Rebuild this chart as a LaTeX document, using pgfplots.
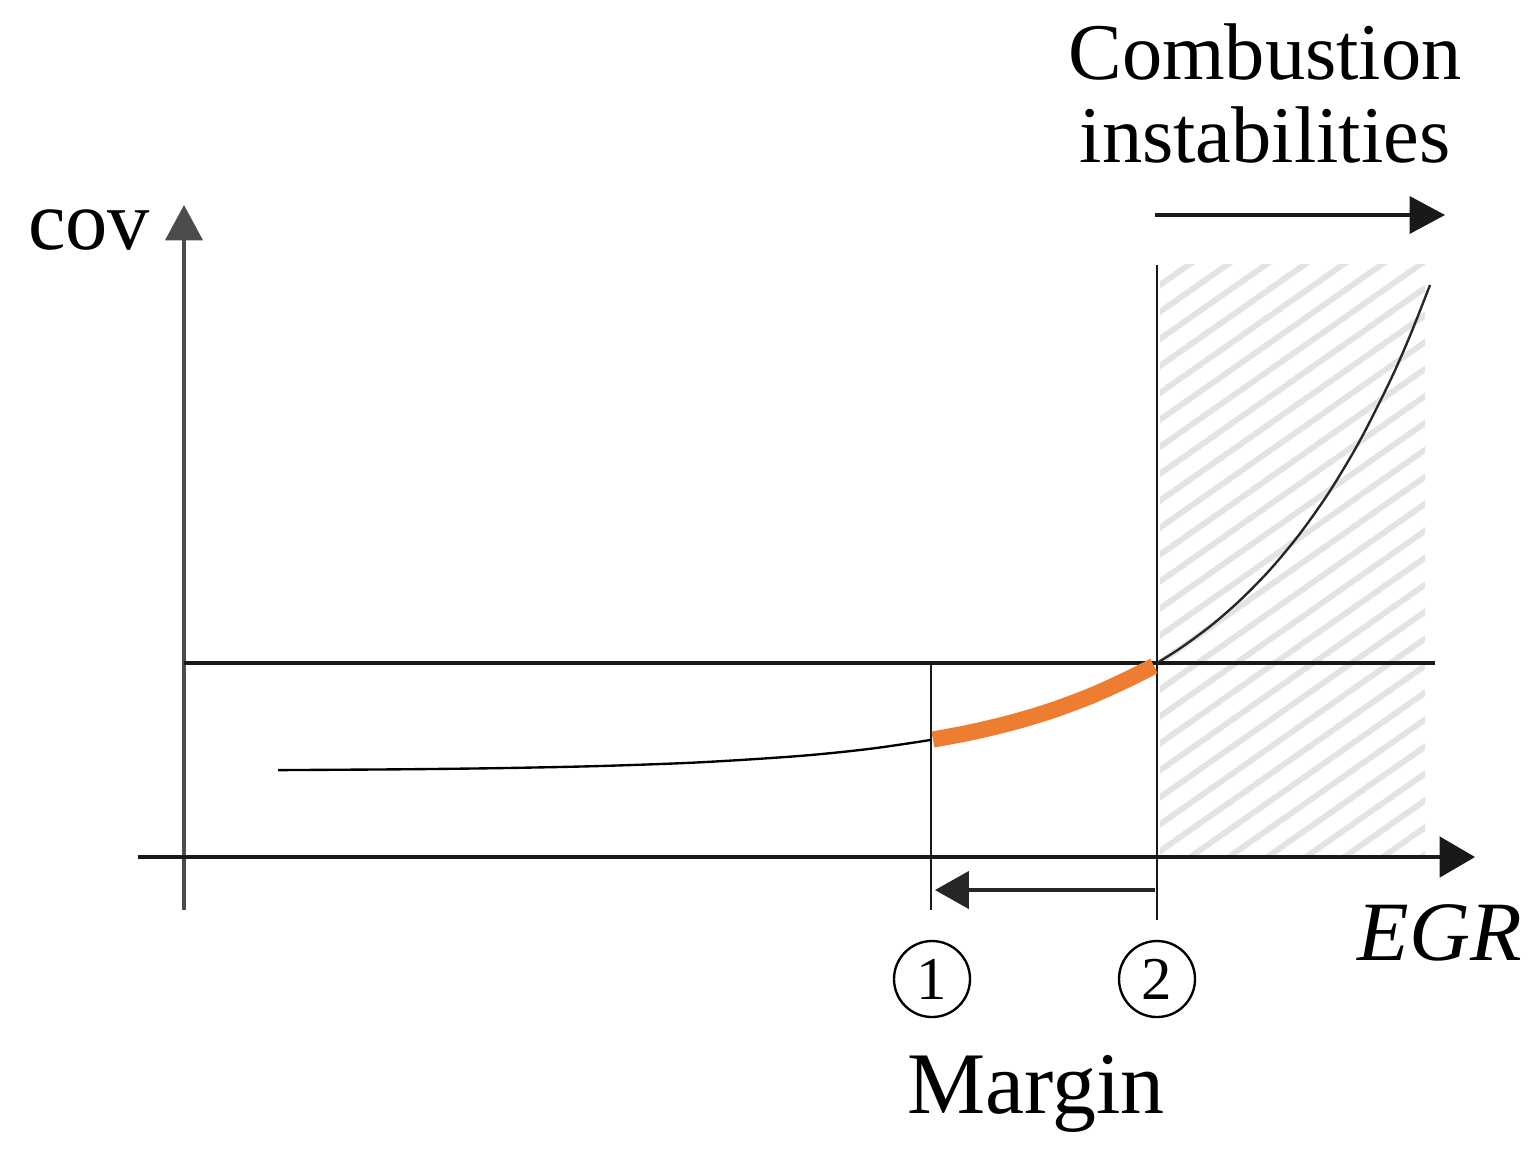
\documentclass[border=0pt]{standalone}
\usepackage{pgfplots}
\pgfplotsset{compat=1.18}
\usepackage{fontspec}
\setmainfont{Liberation Serif}
\usetikzlibrary{arrows.meta,patterns.meta}
\definecolor{orng}{HTML}{ED7D31}
\begin{document}
\begin{tikzpicture}
\begin{axis}[
  scale only axis, width=16cm, height=12.016cm,
  xmin=0, xmax=1538, ymin=0, ymax=1155,
  hide axis, clip=false,
]
\addplot[draw=none] coordinates {(0,0) (1538,1155)};
% hatched region
\addplot[draw=none, pattern={Lines[angle=35,distance=6.5pt,line width=1.8pt]}, pattern color=black!11]
  coordinates {(1160,298) (1425,298) (1425,890) (1160,890)} -- cycle;
% axes
\addplot[black!70, line width=1.2pt, -{Triangle[length=10.5pt,width=11pt]}] coordinates {(184,245) (184,950)};
\addplot[black!90, line width=1.0pt, -{Triangle[length=10.5pt,width=12pt]}] coordinates {(138,298) (1475,298)};
% threshold and markers
\addplot[black!90, line width=0.9pt] coordinates {(184,492) (1435,492)};
\addplot[black!90, line width=0.8pt] coordinates {(931,492) (931,245)};
\addplot[black!90, line width=0.8pt] coordinates {(1157,890) (1157,235)};
% margin arrow
\addplot[black!85, line width=1.0pt, -{Triangle[length=10pt,width=11pt]}] coordinates {(1155,265) (935,265)};
% top arrow
\addplot[black!90, line width=1.0pt, -{Triangle[length=10.5pt,width=11pt]}] coordinates {(1155,940) (1445,940)};
% curve
\addplot[black, line width=0.7pt, smooth] coordinates {
 (278,384.9) (400,385.7) (500,386.9) (600,389.0) (700,392.7) (800,399.1) (870,406.2) (931,415.1)};
\addplot[orng, line width=4.8pt, smooth] coordinates {
 (933,415.5) (970,422.5) (1010,432.0) (1050,443.9) (1090,458.7) (1125,474.5) (1154,489)};
\addplot[black!85, line width=0.7pt, smooth] coordinates {
 (1157,492) (1180,506.6) (1210,528.6) (1240,554.7) (1270,585.3) (1300,621.5) (1330,664.2) (1360,714.6) (1390,774.0) (1410,819.3) (1430,870)};
% texts
\node[anchor=base, font=\fontsize{23.8}{28}\selectfont] at (axis cs:1265,1075) {Combustion};
\node[anchor=base, font=\fontsize{23.8}{28}\selectfont] at (axis cs:1265,992) {instabilities};
\node[anchor=base, font=\fontsize{25}{28}\selectfont] at (axis cs:89,905) {cov};
\node[anchor=base, font=\fontsize{25}{30}\selectfont\itshape] at (axis cs:1440,195) {EGR};
\node[anchor=base, font=\fontsize{26}{30}\selectfont] at (axis cs:1036,42) {Margin};
\node[draw, circle, line width=0.7pt, minimum size=22.5pt, inner sep=0pt, font=\fontsize{18}{20}\selectfont] at (axis cs:932,176) {1};
\node[draw, circle, line width=0.7pt, minimum size=22.5pt, inner sep=0pt, font=\fontsize{18}{20}\selectfont] at (axis cs:1157,176) {2};
\end{axis}
\end{tikzpicture}
\end{document}
